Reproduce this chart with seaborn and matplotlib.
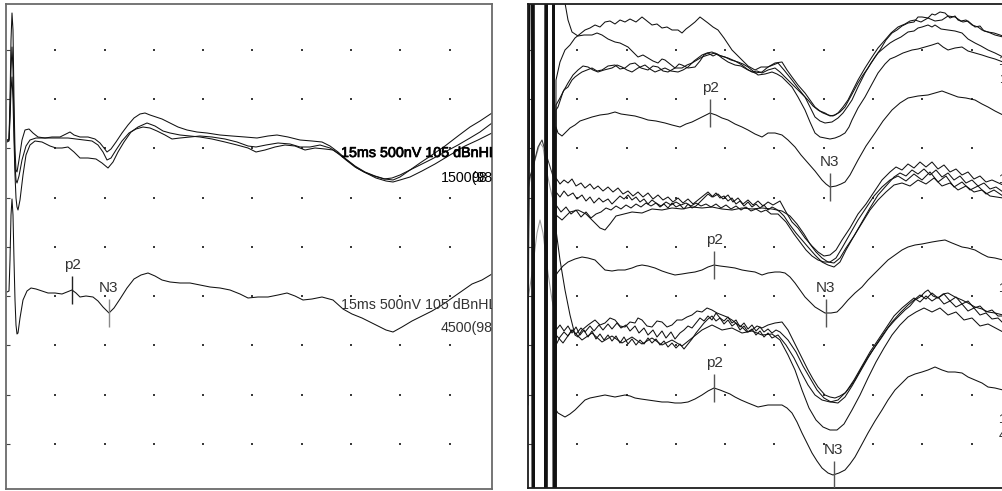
import numpy as np
import pandas as pd
import matplotlib
matplotlib.use("Agg")
import matplotlib.pyplot as plt
import matplotlib.patheffects as pe
import seaborn as sns

# ---------------------------------------------------------------------------
# Recording scale: samples -> ms, ADC counts -> nV
# ---------------------------------------------------------------------------
DT_MS = 1.5 / 49.3      # ms per sample (1.5 ms per grid division)
GAIN_NV = 500 / 49.3    # nV per count (500 nV per grid division)

HI, LO = 900, -900      # saturated stimulus artifact (off scale)

# ---------------------------------------------------------------------------
# Left panel: three single sweeps and their average  (sample, counts)
# ---------------------------------------------------------------------------
left_sweep_a = [(1,0),(3,1),(4,40),(5,100),(6,127),(7,110),(8,40),(9,-10),(10,-30),(11,-32),
    (13,-20),(16,0),(19,10),(23,11),(27,7),(32,3),(39,2),(46,3),(54,3),(60,6),(64,8),(68,5),
    (74,3),(82,3),(89,1),(94,-3),(98,-8),(101,-12),(105,-9),(110,-2),(116,7),(122,15),(128,22),
    (134,26),(139,27),(144,25),(150,23),(156,21),(164,17),(172,13),(181,10),(191,8),(201,7),
    (214,5),(226,4),(239,3),(251,2),(262,4),(271,5),(282,3),(294,0),(306,-1),(316,-2),(324,-6),
    (332,-12),(340,-19),(349,-26),(359,-32),(369,-36),(379,-39),(387,-40),(394,-37),(404,-30),
    (414,-23),(426,-15),(439,-6),(452,4),(464,13),(474,19),(486,27)]

left_sweep_b = [(1,-2),(3,-1),(4,20),(5,50),(6,63),(7,40),(8,0),(9,-35),(10,-58),(11,-67),
    (12,-70),(14,-60),(17,-35),(20,-15),(24,-5),(29,-1),(36,-2),(44,-6),(50,-8),(56,-8),(62,-7),
    (68,-12),(74,-18),(82,-18),(90,-19),(96,-23),(102,-28),(107,-22),(112,-12),(118,-2),(125,8),
    (132,13),(141,17),(149,14),(157,9),(164,7),(174,5),(184,4),(194,3),(206,1),(219,-2),(231,-5),
    (242,-8),(250,-12),(259,-10),(269,-7),(279,-5),(289,-6),(299,-10),(309,-8),(319,-9),(327,-10),
    (334,-15),(342,-21),(351,-28),(360,-33),(370,-38),(380,-41),(387,-42),(394,-40),(404,-37),
    (416,-31),(429,-24),(444,-15),(459,-6),(472,0),(486,7)]

left_sweep_c = [(1,-1),(3,0),(4,30),(5,70),(6,93),(7,70),(8,15),(9,-25),(10,-40),(11,-43),
    (13,-36),(16,-20),(20,-6),(24,0),(30,2),(38,2),(46,2),(54,2),(62,2),(70,1),(78,0),(86,-1),
    (92,-5),(97,-12),(101,-20),(105,-18),(110,-10),(116,-1),(123,7),(130,11),(137,13),(144,12),
    (151,9),(159,5),(166,1),(174,2),(184,3),(194,4),(206,3),(219,1),(231,-2),(242,-6),(250,-7),
    (260,-5),(272,-3),(284,-4),(294,-7),(304,-7),(314,-5),(324,-8),(332,-13),(340,-20),(349,-27),
    (358,-32),(368,-36),(378,-39),(386,-38),(394,-35),(404,-30),(414,-25),(426,-19),(439,-12),
    (452,-5),(464,2),(474,8),(486,17)]

left_average = [(1,-2),(3,-1),(4,30),(5,75),(6,91),(7,75),(8,30),(9,-10),(10,-35),(11,-44),
    (12,-43),(14,-28),(17,-10),(21,-1),(25,2),(30,1),(36,-1),(42,-3),(49,-3),(56,-4),(61,-2),
    (66,0),(70,-3),(74,-7),(80,-6),(87,-7),(92,-11),(97,-17),(103,-23),(108,-18),(114,-9),
    (121,2),(128,11),(135,15),(142,17),(149,14),(156,10),(164,8),(174,7),(184,7),(194,5),(204,3),
    (214,2),(224,0),(234,-4),(242,-8),(252,-7),(262,-7),(272,-5),(281,-3),(289,-6),(297,-10),
    (306,-9),(316,-7),(327,-10),(337,-19),(346,-24),(356,-28),(364,-32),(372,-36),(380,-40),
    (387,-42),(396,-37),(406,-31),(416,-26),(426,-21),(436,-15),(446,-8),(456,-1),(466,6),
    (476,10),(486,16)]

# ---------------------------------------------------------------------------
# Right panel: three blocks of four sweeps, each with its average
# ---------------------------------------------------------------------------
r1_sweep_a = [(0,25),(4,HI),(6,LO),(17,LO),(19,HI),(24,HI),(26,LO),
    (28,-20),(32,-2),(37,10),(42,15),(47,22),(52,26),(57,30),(62,32),(67,35),(72,33),(77,38),
    (82,39),(87,36),(92,40),(97,38),(102,41),(108,38),(114,43),(119,39),(124,35),(129,36),
    (134,32),(139,33),(144,30),(150,30),(154,27),(158,31),(162,34),(167,38),(172,43),(176,40),
    (180,37),(185,33),(190,30),(196,22),(200,16),(204,10),(209,5),(214,0),(220,-6),(227,-10),
    (233,-7),(240,-7),(247,-3),(254,-2),(259,-10),(264,-17),(270,-25),(277,-33),(282,-40),
    (287,-47),(292,-51),(297,-53),(302,-56),(307,-55),(312,-52),(317,-47),(323,-36),(330,-23),
    (335,-15),(340,-8),(347,3),(352,10),(358,20),(364,27),(369,30),(374,34),(380,37),(386,38),
    (390,43),(394,43),(400,42),(404,46),(407,45),(412,48),(417,47),(422,42),(427,44),(430,40),
    (435,38),(440,39),(447,33),(452,34),(456,29),(460,28),(466,27),(475,24)]

r1_sweep_b = [(0,37),(3,HI),(5,LO),(16,LO),(18,HI),
    (37,57),(40,40),(44,28),(50,24),(56,25),(64,25),(69,27),(74,25),(80,21),(87,18),(92,17),
    (100,13),(105,8),(110,3),(115,5),(120,2),(125,-1),(130,-3),(134,1),(137,0),(142,-4),(147,-8),
    (151,-4),(154,-5),(160,-8),(167,-7),(172,-1),(176,5),(180,7),(185,4),(189,6),(194,2),
    (200,-2),(207,-5),(213,-6),(220,-10),(227,-13),(234,-12),(240,-7),(245,-5),(250,-3),
    (256,-10),(264,-20),(270,-28),(277,-37),(282,-47),(287,-57),(292,-61),(297,-63),(304,-62),
    (310,-58),(315,-53),(320,-46),(324,-40),(330,-27),(337,-13),(343,-3),(350,7),(357,13),
    (362,17),(367,20),(373,23),(380,28),(386,29),(390,32),(394,33),(400,35),(404,33),(407,35),
    (413,31),(420,30),(427,29),(434,27),(440,21),(447,17),(453,14),(460,10),(467,7),(475,3)]

r1_sweep_c = [(0,-5),(5,HI),(7,LO),(18,LO),(20,HI),(25,HI),(27,LO),
    (28,-45),(32,-38),(36,-30),(40,-27),(44,-20),(47,-17),(51,-14),(54,-12),(59,-10),(64,-8),
    (69,-11),(74,-10),(80,-6),(87,-5),(92,-9),(97,-8),(102,-4),(107,-3),(113,-8),(120,-10),
    (125,-6),(130,-7),(135,-11),(140,-12),(147,-8),(154,-8),(159,-5),(164,-3),(169,0),(174,3),
    (180,5),(187,7),(193,4),(200,2),(207,-1),(214,-5),(219,-9),(224,-12),(229,-11),(234,-13),
    (240,-10),(247,-8),(252,-12),(257,-17),(264,-24),(270,-30),(275,-35),(280,-40),(285,-46),
    (290,-50),(295,-53),(300,-55),(305,-56),(310,-53),(315,-47),(320,-40),(325,-30),(330,-20),
    (337,-8),(344,3),(350,12),(357,20),(363,27),(370,33),(377,36),(382,39),(387,40),(393,38),
    (400,42),(407,39),(414,40),(420,44),(427,43),(433,39),(438,40),(444,35),(450,33),(454,30),
    (460,28),(467,25),(475,23)]

r1_sweep_d = [(0,-10),(4,HI),(6,LO),(17,LO),(19,HI),(25,HI),(27,LO),
    (28,-50),(30,-47),(35,-32),(40,-23),(45,-15),(50,-10),(55,-6),(60,-7),(65,-10),(70,-12),
    (76,-10),(84,-8),(89,-5),(94,-7),(99,-10),(104,-12),(110,-8),(117,-5),(122,-9),(127,-12),
    (132,-10),(137,-8),(143,-11),(150,-12),(155,-10),(160,-7),(166,-1),(174,5),(179,7),(184,8),
    (190,5),(197,3),(203,0),(210,-2),(215,-4),(220,-7),(225,-11),(230,-15),(237,-14),(244,-12),
    (249,-14),(254,-17),(259,-22),(264,-27),(270,-37),(277,-50),(282,-62),(287,-73),(292,-77),
    (297,-78),(302,-79),(307,-78),(312,-76),(317,-73),(321,-67),(324,-60),(330,-48),(337,-37),
    (344,-24),(350,-13),(357,-4),(362,1),(367,3),(375,7),(384,10),(390,11),(397,13),(404,15),
    (410,17),(415,13),(420,10),(427,12),(434,13),(440,9),(447,7),(454,5),(460,3),(467,1),(475,-2)]

r1_average = [(0,3),(5,HI),(7,LO),(18,LO),(20,HI),(26,HI),(27,LO),
    (28,-7),(30,-13),(34,-16),(38,-12),(42,-8),(47,-5),(52,-1),(58,1),(64,3),(72,5),(80,6),
    (87,8),(93,6),(100,5),(107,4),(114,2),(120,0),(128,-1),(137,-3),(144,-5),(152,-7),(158,-4),
    (164,-2),(170,1),(176,4),(182,7),(188,5),(194,2),(200,0),(207,-4),(214,-7),(220,-10),
    (227,-14),(234,-17),(240,-13),(247,-13),(254,-15),(260,-20),(267,-27),(273,-35),(280,-43),
    (287,-51),(294,-60),(298,-64),(302,-67),(308,-66),(313,-64),(317,-62),(322,-55),(330,-40),
    (338,-26),(347,-13),(355,-1),(364,10),(372,17),(380,22),(390,24),(400,25),(407,27),(414,29),
    (422,26),(430,23),(438,22),(447,20),(454,16),(460,13),(467,9),(475,5)]

r2_sweep_a = [(0,20),(4,HI),(6,LO),(17,LO),(19,HI),(24,HI),(26,LO),
    (28,22),(32,16),(36,20),(40,17),(44,21),(48,14),(53,17),(57,12),(62,16),(66,11),(70,14),
    (75,9),(80,13),(85,8),(90,12),(95,6),(100,9),(105,4),(110,8),(115,3),(120,7),(125,1),(130,5),
    (135,0),(140,3),(145,-2),(150,2),(155,-3),(160,1),(165,-4),(170,0),(175,4),(180,8),(185,3),
    (190,6),(195,1),(200,5),(205,-2),(210,2),(215,-4),(220,0),(225,-5),(230,-1),(235,-6),
    (240,-2),(245,-5),(252,-1),(258,-12),(264,-22),(270,-28),(277,-38),(284,-46),(290,-52),
    (296,-56),(302,-55),(308,-50),(314,-40),(322,-28),(330,-14),(338,-4),(346,8),(354,20),
    (362,28),(368,33),(374,30),(380,36),(386,32),(392,38),(398,33),(404,38),(410,31),(416,35),
    (422,28),(428,31),(434,25),(440,28),(446,21),(452,24),(458,18),(464,20),(475,15)]

r2_sweep_b = [(0,15),(3,HI),(5,LO),(16,LO),(18,HI),(25,HI),(27,LO),
    (28,8),(32,3),(36,9),(40,4),(45,7),(49,1),(54,5),(58,-1),(62,3),(66,-3),(71,2),(75,-2),
    (80,1),(84,-4),(88,0),(92,4),(96,1),(100,5),(104,0),(108,3),(112,-2),(116,1),(120,-4),
    (124,0),(128,-3),(132,-7),(136,-4),(140,-8),(144,-3),(148,-7),(152,-5),(156,-9),(160,-4),
    (164,-8),(168,-6),(172,-2),(176,2),(180,6),(184,3),(188,7),(192,2),(196,4),(200,-1),(204,2),
    (208,-4),(212,-1),(216,-6),(220,-2),(224,-7),(228,-4),(232,-8),(236,-5),(240,-10),(244,-7),
    (248,-9),(252,-12),(256,-16),(262,-25),(268,-33),(274,-40),(280,-47),(287,-55),(294,-62),
    (300,-65),(306,-67),(312,-62),(318,-50),(326,-36),(334,-22),(342,-8),(350,5),(358,14),
    (366,23),(372,27),(378,24),(384,30),(390,26),(396,31),(402,25),(408,30),(414,23),(420,27),
    (426,20),(432,24),(438,17),(444,20),(450,14),(456,17),(462,11),(468,13),(475,8)]

r2_sweep_c = [(0,0),(5,HI),(7,LO),(18,LO),(20,HI),(25,HI),(26,LO),
    (28,-5),(33,-12),(38,-7),(43,-14),(48,-10),(53,-17),(58,-12),(63,-18),(68,-14),(73,-12),
    (78,-8),(83,-10),(88,-6),(93,-9),(98,-5),(103,-8),(108,-4),(113,-7),(118,-3),(123,-6),
    (128,-3),(133,-6),(138,-2),(143,-5),(148,-2),(153,-5),(158,-3),(163,-6),(168,-3),(173,-6),
    (178,-4),(183,-7),(188,-4),(193,-8),(198,-5),(203,-9),(208,-6),(213,-10),(218,-7),(223,-11),
    (228,-9),(233,-12),(238,-10),(243,-14),(250,-14),(258,-22),(266,-34),(272,-42),(278,-50),
    (284,-56),(290,-60),(296,-62),(302,-62),(308,-58),(314,-48),(322,-34),(330,-20),(338,-8),
    (346,4),(354,13),(362,20),(370,24),(378,19),(386,26),(394,20),(402,28),(410,18),(418,24),
    (426,13),(434,18),(442,10),(450,14),(458,6),(466,10),(475,4)]

r2_sweep_d = [(0,-12),(4,HI),(6,LO),(17,LO),(19,HI),(25,HI),(27,LO),
    (28,-15),(34,-20),(42,-12),(50,-10),(58,-14),(66,-22),(72,-28),(77,-30),(82,-24),(88,-16),
    (96,-14),(104,-12),(114,-13),(124,-9),(134,-10),(144,-8),(154,-9),(164,-7),(174,-8),(184,-7),
    (194,-9),(204,-10),(214,-8),(224,-9),(234,-8),(244,-9),(254,-11),(262,-16),(269,-24),
    (276,-34),(282,-44),(288,-52),(294,-58),(300,-62),(306,-63),(312,-58),(318,-48),(326,-36),
    (334,-23),(342,-10),(350,0),(358,8),(366,15),(374,17),(382,14),(390,20),(398,16),(406,22),
    (414,14),(422,17),(430,10),(438,14),(446,8),(454,10),(462,4),(475,2)]

r2_average = [(0,-5),(4,HI),(6,LO),(18,LO),(20,HI),(26,HI),(27,LO),
    (28,-10),(30,-7),(35,-1),(40,3),(47,6),(54,8),(60,7),(67,5),(72,0),(77,-5),(84,-6),(90,-5),
    (97,-5),(104,-3),(109,-1),(114,0),(120,-1),(127,-3),(134,-6),(140,-8),(147,-10),(154,-9),
    (160,-8),(167,-7),(174,-5),(180,-2),(186,0),(192,-1),(200,-2),(207,-3),(214,-5),(220,-6),
    (227,-7),(234,-10),(240,-8),(247,-7),(252,-7),(257,-8),(262,-12),(267,-18),(272,-25),
    (277,-32),(282,-37),(287,-42),(292,-45),(297,-48),(303,-48),(309,-47),(314,-42),(320,-35),
    (327,-28),(334,-22),(340,-15),(347,-8),(354,-1),(360,5),(367,10),(374,15),(380,18),(387,20),
    (394,21),(404,23),(410,24),(417,25),(424,22),(434,18),(440,17),(447,15),(454,11),(460,8),
    (467,7),(475,5)]

r3_sweep_a = [(0,-5),(4,HI),(6,LO),(17,LO),(19,HI),
    (28,105),(32,75),(37,45),(42,20),(47,0),(50,-2),(54,5),(60,10),(67,15),(72,10),(77,12),
    (82,17),(87,15),(92,9),(97,8),(102,13),(107,12),(110,17),(114,15),(119,9),(124,8),(129,14),
    (134,13),(139,8),(144,10),(149,15),(154,15),(159,18),(164,20),(169,24),(174,23),(179,27),
    (184,25),(189,22),(194,20),(199,18),(204,15),(209,11),(214,8),(219,3),(224,5),(229,9),
    (234,7),(240,10),(247,12),(254,13),(260,5),(265,-5),(270,-15),(275,-25),(280,-35),(285,-44),
    (290,-52),(297,-60),(302,-62),(307,-63),(312,-61),(317,-58),(322,-52),(327,-45),(333,-34),
    (340,-22),(347,-12),(354,-2),(360,7),(367,15),(372,20),(377,25),(382,29),(387,35),(392,38),
    (397,43),(400,45),(405,39),(410,37),(415,41),(420,42),(427,38),(434,35),(440,32),(447,28),
    (454,26),(460,23),(467,22),(475,20)]

r3_sweep_b = [(0,-10),(3,HI),(5,LO),(16,LO),(18,HI),(25,HI),(27,LO),
    (28,-10),(32,-2),(36,3),(40,-1),(44,5),(48,1),(53,7),(57,3),(62,9),(66,4),(71,10),(75,5),
    (80,11),(84,6),(89,12),(93,7),(98,10),(102,4),(107,9),(111,2),(116,7),(120,0),(125,5),
    (129,-2),(134,4),(138,-3),(143,3),(147,-4),(152,2),(156,5),(160,9),(164,7),(168,12),(172,17),
    (176,14),(180,19),(184,15),(188,22),(192,17),(196,14),(200,18),(204,12),(208,15),(212,8),
    (216,12),(220,6),(224,10),(228,4),(232,8),(236,3),(240,6),(244,2),(248,5),(252,3),(260,-5),
    (268,-17),(275,-31),(282,-43),(289,-55),(296,-63),(303,-67),(310,-68),(317,-62),(324,-51),
    (332,-37),(340,-23),(348,-10),(356,2),(364,13),(372,22),(380,30),(386,35),(392,40),(398,36),
    (404,42),(410,37),(416,41),(422,34),(428,38),(434,31),(440,34),(446,27),(452,29),(458,23),
    (464,25),(470,19),(475,19)]

r3_sweep_c = [(0,5),(5,HI),(7,LO),(18,LO),(20,HI),(24,HI),(26,LO),
    (28,5),(32,10),(36,4),(40,9),(44,2),(48,8),(52,0),(56,5),(60,-2),(64,4),(68,-4),(72,1),
    (76,-5),(80,0),(84,-6),(88,-1),(92,-8),(96,-2),(100,-9),(104,-4),(108,-10),(112,-5),(116,-9),
    (120,-3),(124,-8),(128,-4),(132,-10),(136,-6),(140,-12),(144,-8),(148,-13),(152,-9),
    (156,-14),(160,-9),(164,-4),(168,2),(172,7),(176,12),(180,16),(184,19),(188,14),(192,17),
    (196,11),(200,15),(204,9),(208,12),(212,5),(216,9),(220,3),(224,6),(228,0),(232,4),(236,-2),
    (240,2),(244,-3),(250,0),(258,-10),(266,-23),(273,-37),(280,-50),(287,-60),(294,-65),
    (302,-67),(310,-65),(318,-57),(326,-45),(334,-31),(342,-17),(350,-5),(358,7),(366,19),
    (374,27),(380,32),(386,37),(392,33),(398,39),(404,34),(410,38),(416,31),(422,34),(428,28),
    (434,31),(440,24),(446,27),(452,20),(458,22),(464,16),(470,17),(475,12)]

r3_sweep_d = [(0,0),(4,HI),(6,LO),(17,LO),(19,HI),(25,HI),(27,LO),
    (28,0),(35,-8),(44,5),(54,-5),(64,2),(74,-7),(84,-1),(94,-8),(104,-2),(114,-9),(124,-3),
    (134,-10),(144,-5),(154,-11),(164,-3),(174,5),(184,10),(194,5),(204,7),(214,2),(224,4),
    (234,0),(244,1),(252,-5),(260,-20),(267,-35),(274,-55),(281,-73),(288,-85),(295,-92),
    (302,-95),(309,-95),(316,-89),(324,-75),(332,-60),(340,-43),(348,-27),(356,-13),(364,0),
    (372,10),(380,18),(388,23),(396,27),(404,23),(412,27),(420,20),(428,23),(436,15),(444,17),
    (452,9),(460,11),(475,3)]

r3_average = [(0,-5),(4,HI),(6,LO),(18,LO),(20,HI),(26,HI),(27,LO),
    (28,-10),(30,-13),(37,-17),(42,-14),(47,-10),(52,-5),(57,0),(62,2),(67,3),(72,4),(77,5),
    (82,4),(87,3),(92,4),(97,5),(102,4),(107,2),(113,1),(120,0),(127,-1),(134,-2),(140,-2),
    (147,-3),(153,-3),(160,-2),(167,1),(174,5),(180,9),(186,12),(192,10),(197,8),(202,6),(207,3),
    (213,0),(220,-3),(225,-5),(230,-7),(235,-6),(240,-5),(247,-5),(254,-5),(259,-8),(264,-13),
    (269,-22),(274,-33),(279,-43),(284,-53),(289,-61),(294,-68),(300,-73),(305,-75),(311,-73),
    (317,-70),(322,-64),(327,-57),(333,-46),(340,-33),(347,-21),(354,-10),(360,0),(367,10),
    (374,17),(380,23),(387,26),(394,28),(400,30),(407,33),(414,30),(420,28),(427,28),(434,27),
    (440,23),(447,20),(454,17),(460,13),(467,12),(475,10)]

# rejected sweeps ringing right after the stimulus
ring_gray_a = [(0,10),(3,25),(7,40),(12,57),(15,53),(19,27),(22,13),(25,0),(28,-10)]
ring_gray_b = [(0,-35),(4,-8),(9,32),(12,45),(15,32),(20,-8),(24,-35),(28,-53)]
ring_dark = [(0,17),(5,33),(10,53),(14,60),(19,43),(24,27),(28,15)]

# peak markers: (trace, sample, name)
left_peaks = [("left_average", 66, "p2"), ("left_average", 103, "N3")]
right_peaks = [("r1_average", 182, "p2"), ("r1_average", 302, "N3"),
               ("r2_average", 186, "p2"), ("r2_average", 298, "N3"),
               ("r3_average", 186, "p2"), ("r3_average", 306, "N3")]

# recording annotation text
scale_text = "15ms 500nV 105 dBnHL"
count_text_sweeps = "1500(98)"
count_text_average = "4500(98)"

# ---------------------------------------------------------------------------
# Layout: vertical offset (counts above the lowest grid row) for each trace
# ---------------------------------------------------------------------------
left_traces = {"left_sweep_a": left_sweep_a, "left_sweep_b": left_sweep_b,
               "left_sweep_c": left_sweep_c, "left_average": left_average}
left_levels = {"left_sweep_a": 304, "left_sweep_b": 304, "left_sweep_c": 304,
               "left_average": 154}

right_traces = {"r1_sweep_a": r1_sweep_a, "r1_sweep_b": r1_sweep_b, "r1_sweep_c": r1_sweep_c,
                "r1_sweep_d": r1_sweep_d, "r1_average": r1_average,
                "r2_sweep_a": r2_sweep_a, "r2_sweep_b": r2_sweep_b, "r2_sweep_c": r2_sweep_c,
                "r2_sweep_d": r2_sweep_d, "r2_average": r2_average,
                "r3_sweep_a": r3_sweep_a, "r3_sweep_b": r3_sweep_b, "r3_sweep_c": r3_sweep_c,
                "r3_sweep_d": r3_sweep_d, "r3_average": r3_average}
right_levels = {"r1_sweep_a": 384, "r1_sweep_b": 384, "r1_sweep_c": 384, "r1_sweep_d": 384,
                "r1_average": 324,
                "r2_sweep_a": 244, "r2_sweep_b": 244, "r2_sweep_c": 244, "r2_sweep_d": 244,
                "r2_average": 179,
                "r3_sweep_a": 109, "r3_sweep_b": 109, "r3_sweep_c": 109, "r3_sweep_d": 109,
                "r3_average": 44}
ring_traces = {"ring_gray_a": ring_gray_a, "ring_gray_b": ring_gray_b}
ring_levels = {"ring_gray_a": 244, "ring_gray_b": 179}
ring_dark_traces = {"ring_dark": ring_dark}
ring_dark_levels = {"ring_dark": 244}


def ms(s):
    return s * DT_MS


def nv(c):
    return c * GAIN_NV


def to_frame(traces, levels):
    parts = []
    for name, pts in traces.items():
        arr = np.asarray(pts, dtype=float)
        parts.append(pd.DataFrame({"time_ms": ms(arr[:, 0]),
                                   "amp_nv": nv(arr[:, 1] + levels[name]),
                                   "sweep": name}))
    return pd.concat(parts, ignore_index=True)


def draw_traces(ax, traces, levels, color, lw=0.75):
    df = to_frame(traces, levels)
    sns.lineplot(data=df, x="time_ms", y="amp_nv", units="sweep", estimator=None,
                 sort=False, color=color, lw=lw, ax=ax, legend=False)


def draw_peaks(ax, peaks, traces, levels, line_color, text_color="#333333"):
    for name, s, label in peaks:
        arr = np.asarray(traces[name], dtype=float)
        val = np.interp(s, arr[:, 0], arr[:, 1]) + levels[name]
        ax.vlines(ms(s), nv(val - 14), nv(val + 14), color=line_color, lw=1.0, zorder=3)
        ax.text(ms(s), nv(val + 25), label, ha="center", va="center", fontsize=11,
                color=text_color, clip_on=True)


def style_panel(ax, spine_color, ymin):
    ax.set_xlim(0, ms(486))
    ax.set_ylim(nv(ymin), nv(440))
    kx, ky = np.meshgrid(np.arange(1, 10) * 1.5, np.arange(0, 9) * 500.0)
    ax.scatter(kx.ravel(), ky.ravel(), s=2.2, marker="s", color="#3a3a3a",
               linewidths=0, zorder=1)
    ax.set_xticks([])
    ax.set_yticks(np.arange(0, 9) * 500.0)
    ax.tick_params(axis="y", direction="in", length=3, width=0.8, color="#444444",
                   labelleft=False, left=True)
    ax.set_xlabel("")
    ax.set_ylabel("")
    for sp in ax.spines.values():
        sp.set_color(spine_color)
        sp.set_linewidth(1.3)
    ax.set_facecolor("white")


sns.set_theme(style="white")
plt.rcParams["font.family"] = ["Liberation Sans", "DejaVu Sans"]

fig = plt.figure(figsize=(10.03, 4.91), dpi=100)
fig.patch.set_facecolor("white")
ax_l = fig.add_axes([6 / 1003, 2 / 491, 486 / 1003, 485 / 491])
ax_r = fig.add_axes([528 / 1003, 3 / 491, 486 / 1003, 484 / 491])

# ---- left panel ----
style_panel(ax_l, "#6a6a6a", -45)
draw_traces(ax_l, left_traces, left_levels, "#111111")
draw_peaks(ax_l, left_peaks[:1], left_traces, left_levels, "#222222")
draw_peaks(ax_l, left_peaks[1:], left_traces, left_levels, "#8a8a8a")

ax_l.text(ms(335), nv(291), scale_text, ha="left", va="center", fontsize=10.3,
          color="#000000", clip_on=True,
          path_effects=[pe.withStroke(linewidth=0.5, foreground="#000000")])
ax_l.text(ms(435), nv(266), count_text_sweeps, ha="left", va="center", fontsize=10.3,
          color="#000000", clip_on=True)
ax_l.text(ms(465), nv(266), count_text_sweeps[5:7], ha="left", va="center", fontsize=10.3,
          color="#000000", clip_on=True)
ax_l.text(ms(335), nv(139), scale_text, ha="left", va="center", fontsize=10.3,
          color="#333333", clip_on=True)
ax_l.text(ms(435), nv(116), count_text_average, ha="left", va="center", fontsize=10.3,
          color="#333333", clip_on=True)

# ---- right panel ----
style_panel(ax_r, "#1e1e1e", -44)
draw_traces(ax_r, ring_traces, ring_levels, "#9a9a9a")
draw_traces(ax_r, ring_dark_traces, ring_dark_levels, "#333333")
draw_traces(ax_r, right_traces, right_levels, "#111111")
draw_peaks(ax_r, right_peaks, right_traces, right_levels, "#555555")

for yc, txt in [(382, scale_text), (364, count_text_sweeps), (264, scale_text),
                (155, scale_text), (24, scale_text), (8, count_text_average)]:
    ax_r.text(ms(471), nv(yc), txt, ha="left", va="center", fontsize=9,
              color="#222222", clip_on=True)

fig.savefig("out.png", dpi=100)
